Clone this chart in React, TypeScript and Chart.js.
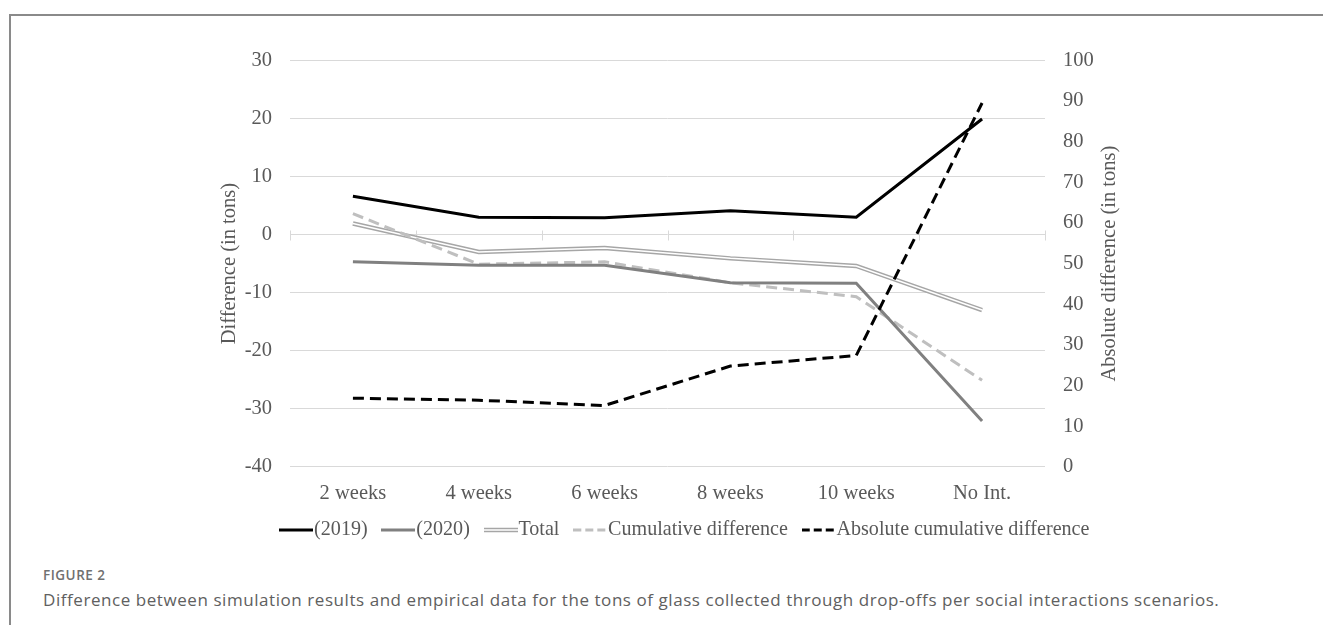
import React, { useEffect, useRef } from "react";
import { Chart, registerables } from "chart.js";

Chart.register(...registerables);

// ---- data ----
const categories = ["2 weeks", "4 weeks", "6 weeks", "8 weeks", "10 weeks", "No Int."];
const diff2019 = [6.6, 3.0, 2.9, 4.1, 3.0, 19.9];
const diff2020 = [-4.7, -5.3, -5.3, -8.3, -8.4, -32.1];
const totalDiff = [1.9, -3.0, -2.3, -4.1, -5.4, -13.0];
const cumulativeDiff = [3.6, -5.1, -4.7, -8.3, -10.7, -25.1];
const absCumulativeDiff = [16.9, 16.4, 15.1, 24.8, 27.4, 89.5];

const leftAxisTitle = "Difference (in tons)";
const rightAxisTitle = "Absolute difference (in tons)";
const legendLabels = ["(2019)", "(2020)", "Total", "Cumulative difference", "Absolute cumulative difference"];
const captionHead = "FIGURE 2";
const captionText =
  "Difference between simulation results and empirical data for the tons of glass collected through drop-offs per social interactions scenarios.";

const SERIF = "'Liberation Serif', 'Times New Roman', serif";
const TEXT = "#595959";
const FS = 20.5;
const LFS = 20.1;

function makeSample(kind: string): HTMLCanvasElement {
  const c = document.createElement("canvas");
  c.width = 34;
  c.height = 10;
  const g = c.getContext("2d")!;
  g.lineCap = "butt";
  const line = (color: string, w: number, dash: number[] = []) => {
    g.save();
    g.strokeStyle = color;
    g.lineWidth = w;
    g.setLineDash(dash);
    g.beginPath();
    g.moveTo(0, 5);
    g.lineTo(34, 5);
    g.stroke();
    g.restore();
  };
  if (kind === "2019") line("#000000", 3);
  if (kind === "2020") line("#808080", 3);
  if (kind === "total") {
    line("#a6a6a6", 4.5);
    line("#ffffff", 1.5);
  }
  if (kind === "cum") line("#bfbfbf", 3, [8, 4]);
  if (kind === "abs") line("#000000", 3, [8, 4]);
  return c;
}

const decorPlugin = {
  id: "decor",
  beforeDatasetsDraw(chart: any) {
    const { ctx, chartArea, scales } = chart;
    const y0 = Math.round(scales.y.getPixelForValue(0)) + 0.5;
    const n = categories.length;
    ctx.save();
    ctx.strokeStyle = "#d9d9d9";
    ctx.lineWidth = 1;
    for (let i = 0; i <= n; i++) {
      const x = Math.round(chartArea.left + (i * (chartArea.right - chartArea.left)) / n) + 0.5;
      ctx.beginPath();
      ctx.moveTo(x, y0 - 5);
      ctx.lineTo(x, y0 + 5);
      ctx.stroke();
    }
    ctx.restore();
  },
  afterDraw(chart: any) {
    const { ctx, chartArea } = chart;
    ctx.save();
    ctx.translate(chartArea.right + 65, (chartArea.top + chartArea.bottom) / 2);
    ctx.rotate(-Math.PI / 2);
    ctx.font = `${FS}px ${SERIF}`;
    ctx.fillStyle = TEXT;
    ctx.textAlign = "center";
    ctx.textBaseline = "middle";
    ctx.fillText(rightAxisTitle, 0, 0);
    ctx.restore();
  },
};

function ChartView() {
  const ref = useRef<HTMLCanvasElement | null>(null);
  useEffect(() => {
    if (!ref.current) return;
    const samples = [makeSample("2019"), makeSample("2020"), makeSample("total"), makeSample("cum"), makeSample("abs")];
    const legendDatasetIndex = [0, 1, 2, 4, 5];
    const chart = new Chart(ref.current, {
      type: "line",
      data: {
        labels: categories,
        datasets: [
          { label: legendLabels[0], data: diff2019, borderColor: "#000000", borderWidth: 3, yAxisID: "y", order: 1 },
          { label: legendLabels[1], data: diff2020, borderColor: "#808080", borderWidth: 3, yAxisID: "y", order: 2 },
          { label: legendLabels[2], data: totalDiff, borderColor: "#a6a6a6", borderWidth: 4.5, yAxisID: "y", order: 6 },
          { label: "Total inner", data: totalDiff, borderColor: "#ffffff", borderWidth: 1.5, yAxisID: "y", order: 5 },
          { label: legendLabels[3], data: cumulativeDiff, borderColor: "#bfbfbf", borderWidth: 3, borderDash: [11, 6], yAxisID: "y", order: 3 },
          { label: legendLabels[4], data: absCumulativeDiff, borderColor: "#000000", borderWidth: 3, borderDash: [11, 6], yAxisID: "y1", order: 0 },
        ].map((d) => ({ ...d, pointRadius: 0, pointHoverRadius: 0, tension: 0, fill: false, borderCapStyle: "butt" as const, borderJoinStyle: "miter" as const })),
      },
      options: {
        animation: false,
        responsive: false,
        maintainAspectRatio: false,
        layout: { padding: { top: 28, left: 0, right: 0, bottom: 0 } },
        plugins: {
          tooltip: { enabled: false },
          legend: {
            position: "bottom",
            align: "center",
            labels: {
              usePointStyle: true,
              pointStyleWidth: 15.5,
              padding: 13,
              color: TEXT,
              font: { family: SERIF, size: LFS },
              generateLabels: () =>
                legendLabels.map((t, i) => ({
                  text: i < legendLabels.length - 1 ? t + "\u00a0\u00a0" : t,
                  pointStyle: samples[i] as any,
                  fillStyle: "rgba(0,0,0,0)",
                  strokeStyle: "rgba(0,0,0,0)",
                  lineWidth: 1,
                  hidden: false,
                  fontColor: TEXT,
                  datasetIndex: legendDatasetIndex[i],
                })),
            },
          },
        },
        scales: {
          x: {
            type: "category",
            offset: true,
            grid: { display: false, drawTicks: false },
            border: { display: false },
            ticks: { color: TEXT, font: { family: SERIF, size: FS }, padding: 14, maxRotation: 0, autoSkip: false },
            afterFit: (s: any) => {
              s.height = 40;
            },
          },
          y: {
            position: "left",
            min: -40,
            max: 30,
            grid: { color: "#d9d9d9", lineWidth: 1, drawTicks: false },
            border: { display: false },
            ticks: { stepSize: 10, color: TEXT, font: { family: SERIF, size: FS }, padding: 18 },
            title: { display: true, text: leftAxisTitle, color: TEXT, font: { family: SERIF, size: FS }, padding: { top: 67.7, bottom: 0 } },
            afterFit: (s: any) => {
              s.width = 140;
            },
          },
          y1: {
            position: "right",
            min: 0,
            max: 100,
            grid: { display: false, drawTicks: false },
            border: { display: false },
            ticks: { stepSize: 10, color: TEXT, font: { family: SERIF, size: FS }, padding: 18 },
            afterFit: (s: any) => {
              s.width = 183;
            },
          },
        },
      },
      plugins: [decorPlugin],
    });
    return () => chart.destroy();
  }, []);
  return <canvas ref={ref} width={1078} height={520} style={{ position: "absolute", left: 150, top: 30, width: 1078, height: 520 }} />;
}

export default function App() {
  return (
    <div style={{ position: "fixed", left: 0, top: 0, width: 1323, height: 626, background: "#ffffff", overflow: "hidden" }}>
      <div
        style={{
          position: "absolute",
          left: 9,
          top: 14,
          width: 1323,
          height: 609,
          borderTop: "2px solid #8a8a8a",
          borderLeft: "2px solid #8a8a8a",
        }}
      />
      <ChartView />
      <div
        style={{
          position: "absolute",
          left: 43,
          top: 566,
          fontFamily: "'Open Sans', sans-serif",
          fontWeight: 600,
          fontSize: 13.5,
          letterSpacing: 0.5,
          color: "#707070",
          lineHeight: "18px",
          whiteSpace: "nowrap",
        }}
      >
        {captionHead}
      </div>
      <div
        style={{
          position: "absolute",
          left: 43,
          top: 589,
          fontFamily: "'Open Sans', sans-serif",
          fontSize: 17,
          letterSpacing: 0.56,
          color: "#606060",
          lineHeight: "22px",
          whiteSpace: "nowrap",
        }}
      >
        {captionText}
      </div>
    </div>
  );
}
